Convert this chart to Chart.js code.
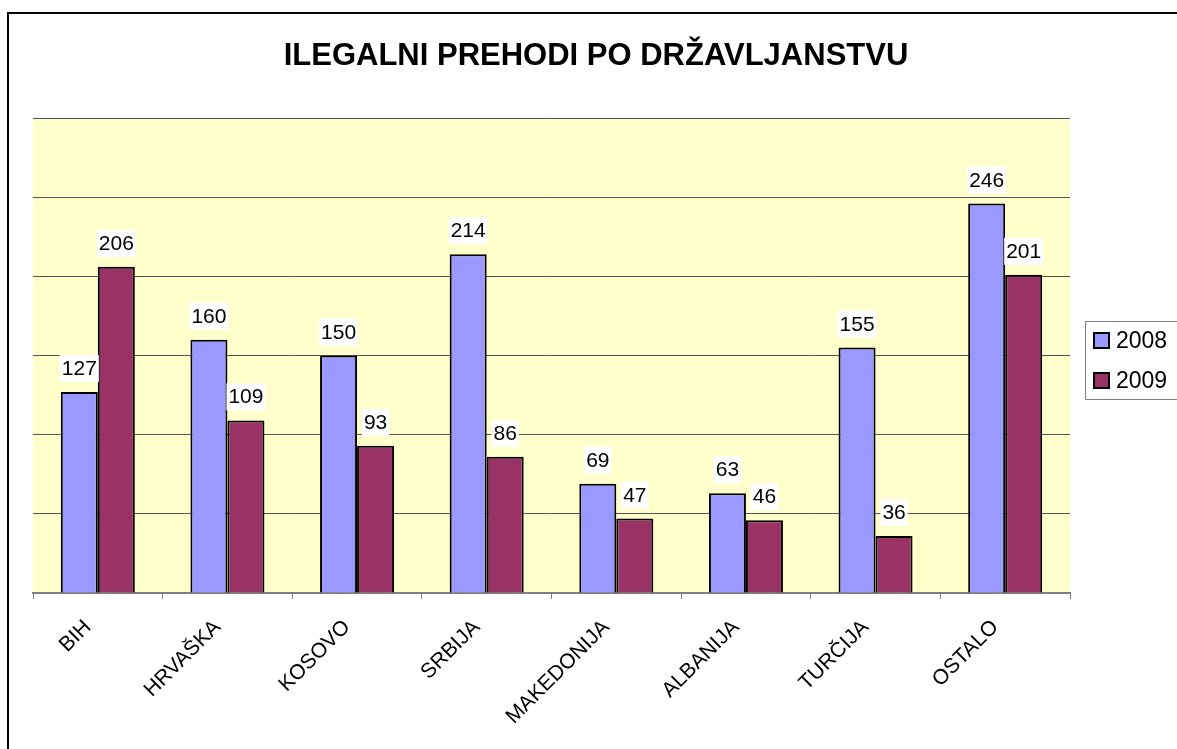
<!DOCTYPE html>
<html>
<head>
<meta charset="utf-8">
<script src="https://cdn.jsdelivr.net/npm/chart.js@4/dist/chart.umd.min.js"></script>
<style>
  body { margin: 0; background: #fff; }
  #wrap { width: 1177px; height: 749px; }
</style>
</head>
<body>
<div id="wrap"><canvas id="prehodiChart" width="1177" height="749"></canvas></div>
<script>
// chart values
const countries = ["BIH", "HRVAŠKA", "KOSOVO", "SRBIJA", "MAKEDONIJA", "ALBANIJA", "TURČIJA", "OSTALO"];
const values2008 = [127, 160, 150, 214, 69, 63, 155, 246];
const values2009 = [206, 109, 93, 86, 47, 46, 36, 201];
const seriesNames = ["2008", "2009"];
const seriesColors = ["#9999FF", "#993366"];
const chartTitle = 'ILEGALNI PREHODI PO DRŽAVLJANSTVU';

const FONT = 'Arial, "Liberation Sans", sans-serif';

// yellow plot background, outer frame and title
const backgroundPlugin = {
    id: 'plotBackground',
    beforeDraw(chart) {
        const { ctx, chartArea } = chart;
        ctx.save();
        ctx.fillStyle = '#FFFFCC';
        ctx.fillRect(chartArea.left, chartArea.top, chartArea.right - chartArea.left, chartArea.bottom - chartArea.top);
        ctx.restore();
    },
    afterDraw(chart) {
        const ctx = chart.ctx;
        ctx.save();
        ctx.strokeStyle = '#000';
        ctx.lineWidth = 2;
        ctx.beginPath();
        ctx.moveTo(8, chart.height + 5);
        ctx.lineTo(8, 13);
        ctx.lineTo(chart.width + 5, 13);
        ctx.stroke();

        ctx.fillStyle = '#000';
        ctx.font = 'bold 31px ' + FONT;
        ctx.textAlign = 'center';
        ctx.textBaseline = 'middle';
        ctx.fillText(chartTitle, 596, 56);
        ctx.restore();
    }
};

// value labels with white box above each bar
const valueLabels = {
    id: 'valueLabels',
    afterDatasetsDraw(chart) {
        const ctx = chart.ctx;
        ctx.save();
        ctx.font = '21px ' + FONT;
        ctx.textAlign = 'center';
        ctx.textBaseline = 'alphabetic';
        chart.data.datasets.forEach((ds, i) => {
            const meta = chart.getDatasetMeta(i);
            meta.data.forEach((bar, j) => {
                const txt = String(ds.data[j]);
                const w = ctx.measureText(txt).width;
                const base = bar.y - 17;
                ctx.fillStyle = '#fff';
                ctx.fillRect(bar.x - w / 2 - 2, base - 20, w + 4, 27);
                ctx.fillStyle = '#000';
                ctx.fillText(txt, bar.x, base);
            });
        });
        ctx.restore();
    }
};

// legend box on the right
const sideLegend = {
    id: 'sideLegend',
    afterDraw(chart) {
        const ctx = chart.ctx;
        ctx.save();
        ctx.strokeStyle = '#808080';
        ctx.lineWidth = 1;
        ctx.strokeRect(1085.5, 321.5, 100, 78);
        ctx.font = '23px ' + FONT;
        ctx.textBaseline = 'middle';
        chart.data.datasets.forEach((ds, i) => {
            const y = 333 + i * 40;
            ctx.fillStyle = ds.backgroundColor;
            ctx.fillRect(1094, y, 15, 15);
            ctx.strokeStyle = '#000';
            ctx.lineWidth = 2;
            ctx.strokeRect(1094, y, 15, 15);
            ctx.fillStyle = '#000';
            ctx.fillText(ds.label, 1116, y + 9);
        });
        ctx.restore();
    }
};

const ctx = document.getElementById("prehodiChart").getContext("2d");
new Chart(ctx, {
    type: 'bar',
    data: {
        labels: countries,
        datasets: [
            { label: seriesNames[0], data: values2008, backgroundColor: seriesColors[0], borderColor: '#000', borderWidth: 2 },
            { label: seriesNames[1], data: values2009, backgroundColor: seriesColors[1], borderColor: '#000', borderWidth: 2 }
        ]
    },
    options: {
        responsive: false,
        animation: false,
        layout: { padding: { left: 33, right: 107, top: 118, bottom: 0 } },
        datasets: { bar: { categoryPercentage: 0.571, barPercentage: 1 } },
        plugins: {
            legend: { display: false },
            tooltip: { enabled: false },
            title: { display: false }
        },
        scales: {
            x: {
                grid: { display: true, drawOnChartArea: false, drawTicks: true, tickLength: 6, color: '#808080', offset: true },
                border: { display: true, color: '#808080', width: 2 },
                ticks: { color: '#000', font: { family: FONT, size: 21 }, maxRotation: 45, minRotation: 45, padding: 16, labelOffset: -10 },
                afterFit(axis) { axis.height = 156; }
            },
            y: {
                min: 0,
                max: 300,
                ticks: { display: false, stepSize: 50 },
                grid: { color: '#555', drawTicks: false },
                border: { display: false },
                afterFit(axis) { axis.width = 0; }
            }
        }
    },
    plugins: [backgroundPlugin, valueLabels, sideLegend]
});
</script>
</body>
</html>
